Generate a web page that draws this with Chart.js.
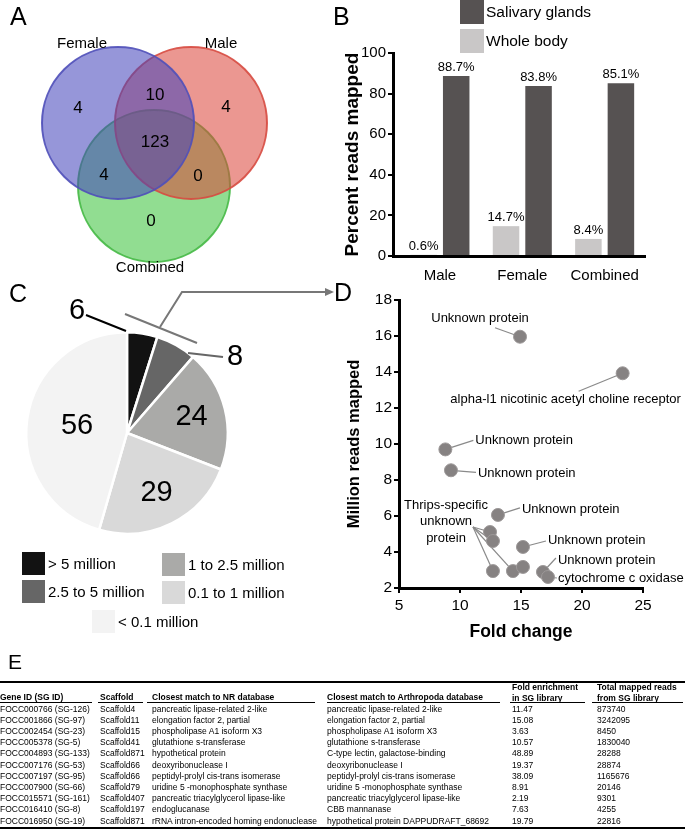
<!DOCTYPE html>
<html><head><meta charset="utf-8">
<script src="https://cdn.jsdelivr.net/npm/chart.js@4.4.0/dist/chart.umd.min.js"></script>
<style>
html,body{margin:0;padding:0;background:#fff;}
body{width:685px;height:829px;position:relative;overflow:hidden;font-family:"Liberation Sans",Arial,sans-serif;color:#000;}
canvas{position:absolute;}
.letter{position:absolute;font-size:25px;line-height:25px;}
.sq{position:absolute;}
.lt{position:absolute;white-space:nowrap;line-height:16px;}
.cell{position:absolute;white-space:nowrap;font-size:8.5px;line-height:11px;}
.hcell{position:absolute;white-space:nowrap;font-size:8.5px;line-height:11px;font-weight:bold;}
.rule{position:absolute;background:#000;}
</style></head><body>

<canvas id="venn" width="300" height="290" style="left:0;top:0;width:300px;height:290px"></canvas>
<canvas id="bars" width="355" height="290" style="left:330px;top:0;width:355px;height:290px"></canvas>
<canvas id="pie" width="330" height="265" style="left:0;top:290px;width:330px;height:265px"></canvas>
<canvas id="scatter" width="355" height="363" style="left:330px;top:285px;width:355px;height:363px"></canvas>
<div id="overlay"></div>

<script>
// ---------------- DATA ----------------
// Panel A (Venn)
const vennSets = ['Female', 'Male', 'Combined'];
// regions: Female only, Female∩Male, Male only, all three, Female∩Combined, Male∩Combined, Combined only
const vennCounts = [4, 10, 4, 123, 4, 0, 0];

// Panel B (bars)
const barCategories = ['Male', 'Female', 'Combined'];
const wholeBody = [0.6, 14.7, 8.4];
const salivaryGlands = [88.7, 83.8, 85.1];
const barTicks = [0, 20, 40, 60, 80, 100];

// Panel C (pie)
const pieCategories = ['> 5 million', '2.5 to 5 million', '1 to 2.5 million', '0.1 to 1 million', '< 0.1 million'];
const pieCounts = [6, 8, 24, 29, 56];

// Panel D (scatter)
const foldChange   = [14.92, 23.33, 8.80, 9.26, 13.11, 12.46, 12.70, 15.16, 12.70, 14.34, 15.16, 16.80, 17.21];
const millionReads = [15.96, 13.93, 9.70, 8.54, 6.06, 5.11, 4.61, 4.28, 2.94, 2.94, 3.17, 2.89, 2.61];
const xTicksD = [5, 10, 15, 20, 25];
const yTicksD = [2, 4, 6, 8, 10, 12, 14, 16, 18];

// Panel E (table)
const tableHeaders = [['Gene ID (SG ID)'], ['Scaffold'], ['Closest match to NR database'], ['Closest match to Arthropoda database'], ['Fold enrichment', 'in SG library'], ['Total mapped reads', 'from SG library']];
const geneIds = ['FOCC000766 (SG-126)', 'FOCC001866 (SG-97)', 'FOCC002454 (SG-23)', 'FOCC005378 (SG-5)', 'FOCC004893 (SG-133)', 'FOCC007176 (SG-53)', 'FOCC007197 (SG-95)', 'FOCC007900 (SG-66)', 'FOCC015571 (SG-161)', 'FOCC016410 (SG-8)', 'FOCC016950 (SG-19)'];
const scaffolds = ['Scaffold4', 'Scaffold11', 'Scaffold15', 'Scaffold41', 'Scaffold871', 'Scaffold66', 'Scaffold66', 'Scaffold79', 'Scaffold407', 'Scaffold197', 'Scaffold871'];
const nrMatch = ['pancreatic lipase-related 2-like', 'elongation factor 2, partial', 'phospholipase A1 isoform X3', 'glutathione s-transferase', 'hypothetical protein', 'deoxyribonuclease I', 'peptidyl-prolyl cis-trans isomerase', 'uridine 5 -monophosphate synthase', 'pancreatic triacylglycerol lipase-like', 'endoglucanase', 'rRNA intron-encoded homing endonuclease'];
const arthMatch = ['pancreatic lipase-related 2-like', 'elongation factor 2, partial', 'phospholipase A1 isoform X3', 'glutathione s-transferase', 'C-type lectin, galactose-binding', 'deoxyribonuclease I', 'peptidyl-prolyl cis-trans isomerase', 'uridine 5 -monophosphate synthase', 'pancreatic triacylglycerol lipase-like', 'CBB mannanase', 'hypothetical protein DAPPUDRAFT_68692'];
const foldEnrich = ['11.47', '15.08', '3.63', '10.57', '48.89', '19.37', '38.09', '8.91', '2.19', '7.63', '19.79'];
const totalReads = ['873740', '3242095', '8450', '1830040', '28288', '28874', '1165676', '20146', '9301', '4255', '22816'];

// ---------------- STYLE / LAYOUT ----------------
const FONT = '"Liberation Sans", Arial, sans-serif';
Chart.defaults.font.family = FONT;
Chart.defaults.color = '#000';
Chart.defaults.animation = false;

const vennCenters = [{x: 118, y: 123}, {x: 191, y: 123}, {x: 154, y: 186}];
const vennFill = ['rgba(68,68,188,0.56)', 'rgba(220,70,58,0.56)', 'rgba(66,196,66,0.58)'];
const vennStroke = ['rgba(80,80,185,0.9)', 'rgba(215,75,65,0.9)', 'rgba(70,185,70,0.9)'];
const vennCountPos = [[78, 108], [155, 95], [226, 107], [155, 142], [104, 175], [198, 176], [151, 221]];
const vennNamePos = [[82, 44], [221, 44], [150, 268]];

const pieColors = ['#121212', '#666666', '#aaaaa8', '#d9d9d9', '#f3f3f3'];
const darkBar = '#565252', lightBar = '#c9c7c7';

// Panel letters
[['A', 10, 4], ['B', 333, 4], ['C', 9, 281], ['D', 334, 280]].forEach(([t, l, tp]) => {
  const d = document.createElement('div'); d.className = 'letter'; d.textContent = t;
  d.style.left = l + 'px'; d.style.top = tp + 'px'; document.body.appendChild(d);
});
(() => { const d = document.createElement('div'); d.className = 'letter'; d.textContent = 'E';
  d.style.left = '8px'; d.style.top = '651px'; d.style.fontSize = '21px'; d.style.lineHeight = '21px'; document.body.appendChild(d); })();

function addBox(cls, l, t, w, h, bg) {
  const d = document.createElement('div'); d.className = cls;
  d.style.left = l + 'px'; d.style.top = t + 'px'; d.style.width = w + 'px'; d.style.height = h + 'px';
  if (bg) d.style.background = bg; document.body.appendChild(d); return d;
}
function addText(cls, txt, l, cy, size, extra) {
  const d = document.createElement('div'); d.className = cls; d.textContent = txt;
  d.style.left = l + 'px'; d.style.top = (cy - 8) + 'px'; d.style.fontSize = size + 'px';
  if (extra) Object.assign(d.style, extra); document.body.appendChild(d); return d;
}

// ---------- Panel A: Venn ----------
const vennText = {
  id: 'vennText',
  afterDatasetsDraw(chart) {
    const {ctx, scales: {x, y}} = chart;
    ctx.save(); ctx.fillStyle = '#000'; ctx.textAlign = 'center'; ctx.textBaseline = 'middle';
    ctx.font = '17px ' + FONT;
    vennCounts.forEach((c, i) => ctx.fillText(String(c), x.getPixelForValue(vennCountPos[i][0]), y.getPixelForValue(vennCountPos[i][1])));
    ctx.font = '15px ' + FONT;
    vennSets.forEach((s, i) => ctx.fillText(s, x.getPixelForValue(vennNamePos[i][0]), y.getPixelForValue(vennNamePos[i][1])));
    ctx.restore();
  }
};
new Chart(document.getElementById('venn'), {
  type: 'scatter',
  data: {datasets: vennSets.map((s, i) => ({label: s, data: [vennCenters[i]], pointRadius: 76, pointHoverRadius: 76,
    backgroundColor: vennFill[i], borderColor: vennStroke[i], borderWidth: 2, clip: false}))},
  options: {responsive: false, events: [], layout: {padding: 0, autoPadding: false},
    scales: {x: {display: false, min: 0, max: 300}, y: {display: false, min: 0, max: 290, reverse: true}},
    plugins: {legend: {display: false}, tooltip: {enabled: false}}},
  plugins: [vennText]
});

// ---------- Panel B: bars ----------
const barLabels = {
  id: 'barLabels',
  afterDatasetsDraw(chart) {
    const ctx = chart.ctx; ctx.save(); ctx.fillStyle = '#000'; ctx.font = '13px ' + FONT;
    ctx.textAlign = 'center'; ctx.textBaseline = 'bottom';
    chart.data.datasets.forEach((ds, di) => {
      chart.getDatasetMeta(di).data.forEach((el, i) => {
        ctx.fillText(ds.data[i].y.toFixed(1) + '%', el.x, el.y - 2);
      });
    });
    ctx.restore();
  }
};
new Chart(document.getElementById('bars'), {
  type: 'bar',
  data: {datasets: [
    {label: 'Whole body', data: wholeBody.map((v, i) => ({x: i, y: v})), backgroundColor: lightBar},
    {label: 'Salivary glands', data: salivaryGlands.map((v, i) => ({x: i, y: v})), backgroundColor: darkBar}
  ]},
  options: {responsive: false, events: [],
    categoryPercentage: 0.79, barPercentage: 0.815,
    layout: {padding: {top: 53, right: 40, left: 0, bottom: 0}, autoPadding: false},
    plugins: {legend: {display: false}, tooltip: {enabled: false}},
    scales: {
      x: {type: 'linear', min: -0.57, max: 2.49, offset: false,
        grid: {display: false, drawTicks: false}, border: {display: true, color: '#000', width: 3},
        afterBuildTicks: s => { s.ticks = barCategories.map((c, i) => ({value: i})); },
        ticks: {callback: v => barCategories[v] ?? '', color: '#000', font: {size: 15}, padding: 11, autoSkip: false, maxRotation: 0},
        afterFit: s => { s.height = 34; }},
      y: {min: 0, max: 100,
        afterBuildTicks: s => { s.ticks = barTicks.map(v => ({value: v})); },
        ticks: {color: '#000', font: {size: 15}, padding: 2},
        grid: {drawOnChartArea: false, color: '#000', lineWidth: 2, tickLength: 5},
        border: {color: '#000', width: 3},
        title: {display: true, text: 'Percent reads mapped', color: '#000', font: {size: 19, weight: 'bold'}, padding: {top: 11, bottom: 0}},
        afterFit: s => { s.width = 63; }}
    }},
  plugins: [barLabels]
});
// bar legend
[['Salivary glands', darkBar, 0], ['Whole body', lightBar, 29]].forEach(([name, col, t]) => {
  addBox('sq', 460, t, 24, 24, col);
  addText('lt', name, 486, t + 12, 15.5);
});

// ---------- Panel C: pie ----------
const pieLabelR = [null, null, 0.66, 0.66, 0.5];
const pieOutside = {0: {tx: -50, ty: -122, l: [-41, -118, -1, -102], c: '#000'}, 1: {tx: 108, ty: -76, l: [96, -76, 61, -80], c: '#666'}};
const pieText = {
  id: 'pieText',
  afterDatasetsDraw(chart) {
    const ctx = chart.ctx; ctx.save(); ctx.fillStyle = '#000'; ctx.font = '29px ' + FONT;
    ctx.textAlign = 'center'; ctx.textBaseline = 'middle';
    chart.getDatasetMeta(0).data.forEach((arc, i) => {
      const p = arc.getProps(['x', 'y', 'startAngle', 'endAngle', 'outerRadius']);
      if (pieOutside[i]) {
        const o = pieOutside[i];
        ctx.strokeStyle = o.c; ctx.lineWidth = 2; ctx.beginPath();
        ctx.moveTo(p.x + o.l[0], p.y + o.l[1]); ctx.lineTo(p.x + o.l[2], p.y + o.l[3]); ctx.stroke();
        ctx.fillText(String(pieCounts[i]), p.x + o.tx, p.y + o.ty);
      } else {
        const m = (p.startAngle + p.endAngle) / 2, r = p.outerRadius * pieLabelR[i];
        ctx.fillText(String(pieCounts[i]), p.x + Math.cos(m) * r, p.y + Math.sin(m) * r);
      }
    });
    ctx.restore();
  }
};
new Chart(document.getElementById('pie'), {
  type: 'pie',
  data: {labels: pieCategories, datasets: [{data: pieCounts, backgroundColor: pieColors, borderColor: '#fff', borderWidth: 2.5}]},
  options: {responsive: false, events: [], layout: {padding: {left: 25, top: 41, right: 101, bottom: 20}},
    plugins: {legend: {display: false}, tooltip: {enabled: false}}},
  plugins: [pieText]
});
// pie legend
const pieLegendPos = [[22, 552], [22, 580], [162, 553], [162, 581], [92, 610]];
pieCategories.forEach((c, i) => {
  const [l, t] = pieLegendPos[i];
  addBox('sq', l, t, 23, 23, pieColors[i]);
  addText('lt', c, l + 26, t + 12, 15);
});

// ---------- Panel D: scatter ----------
const notes = [
  {i: 0, text: ['Unknown protein'], dx: -40, dy: -18, align: 'center', lx: -25, ly: -9},
  {i: 1, text: ['alpha-l1 nicotinic acetyl choline receptor'], dx: -57, dy: 26, align: 'center', lx: -44, ly: 18},
  {i: 2, text: ['Unknown protein'], dx: 30, dy: -9, align: 'left', lx: 28, ly: -9},
  {i: 3, text: ['Unknown protein'], dx: 27, dy: 3, align: 'left', lx: 25, ly: 2},
  {i: 4, text: ['Unknown protein'], dx: 24, dy: -5, align: 'left', lx: 22, ly: -7},
  {i: 7, text: ['Unknown protein'], dx: 25, dy: -7, align: 'left', lx: 23, ly: -6},
  {i: 11, text: ['Unknown protein'], dx: 15, dy: -12, align: 'left', lx: 13, ly: -14},
  {i: 12, text: ['cytochrome c oxidase'], dx: 10, dy: 1, align: 'left', lx: 9, ly: 1},
  {i: 5, text: ['Thrips-specific', 'unknown', 'protein'], dx: -44, dy: -27, align: 'center', lineH: 16.5, hub: [-17, -5], targets: [5, 6, 8, 9]}
];
const scatterNotes = {
  id: 'scatterNotes',
  beforeDatasetsDraw(chart) {
    const ctx = chart.ctx, pts = chart.getDatasetMeta(0).data;
    ctx.save(); ctx.strokeStyle = '#8a8a8a'; ctx.lineWidth = 1.2;
    notes.forEach(n => {
      const p = pts[n.i];
      if (n.targets) {
        n.targets.forEach(t => { ctx.beginPath(); ctx.moveTo(p.x + n.hub[0], p.y + n.hub[1]); ctx.lineTo(pts[t].x, pts[t].y); ctx.stroke(); });
      } else {
        ctx.beginPath(); ctx.moveTo(p.x, p.y); ctx.lineTo(p.x + n.lx, p.y + n.ly); ctx.stroke();
      }
    });
    ctx.restore();
  },
  afterDatasetsDraw(chart) {
    const ctx = chart.ctx, pts = chart.getDatasetMeta(0).data;
    ctx.save(); ctx.fillStyle = '#000'; ctx.font = '13px ' + FONT; ctx.textBaseline = 'middle';
    notes.forEach(n => {
      const p = pts[n.i]; ctx.textAlign = n.align;
      n.text.forEach((t, k) => ctx.fillText(t, p.x + n.dx, p.y + n.dy + k * (n.lineH || 0)));
    });
    ctx.restore();
  }
};
new Chart(document.getElementById('scatter'), {
  type: 'scatter',
  data: {datasets: [{data: foldChange.map((x, i) => ({x, y: millionReads[i]})), pointRadius: 6.5, pointHoverRadius: 6.5,
    backgroundColor: '#868282', borderColor: '#9d9999', borderWidth: 1, clip: false}]},
  options: {responsive: false, events: [],
    layout: {padding: {top: 15, right: 42, left: 0, bottom: 0}, autoPadding: false},
    plugins: {legend: {display: false}, tooltip: {enabled: false}},
    scales: {
      x: {min: 5, max: 25,
        afterBuildTicks: s => { s.ticks = xTicksD.map(v => ({value: v})); },
        ticks: {color: '#000', font: {size: 15.5}, padding: 3, maxRotation: 0},
        grid: {drawOnChartArea: false, color: '#000', lineWidth: 2, tickLength: 5},
        border: {color: '#000', width: 3},
        title: {display: true, text: 'Fold change', color: '#000', font: {size: 17.5, weight: 'bold'}, padding: {top: 0, bottom: 5}},
        afterFit: s => { s.height = 60; }},
      y: {min: 2, max: 18,
        afterBuildTicks: s => { s.ticks = yTicksD.map(v => ({value: v})); },
        ticks: {color: '#000', font: {size: 15.5}, padding: 2},
        grid: {drawOnChartArea: false, color: '#000', lineWidth: 2, tickLength: 5},
        border: {color: '#000', width: 3},
        title: {display: true, text: 'Million reads mapped', color: '#000', font: {size: 16.5, weight: 'bold'}, padding: {top: 15, bottom: 0}},
        afterFit: s => { s.width = 69; }}
    }},
  plugins: [scatterNotes]
});

// ---------- Panel E: table ----------
const colX = [0, 100, 152, 327, 512, 597];
const colUnderline = [[0, 92], [98, 143], [147, 315], [327, 500], [510, 585], [592, 683]];
const columns = [geneIds, scaffolds, nrMatch, arthMatch, foldEnrich, totalReads];
addBox('rule', 0, 681, 685, 1.5);
tableHeaders.forEach((h, c) => {
  const top = h.length === 2 ? 681.5 : 691.5;
  h.forEach((t, k) => {
    const d = document.createElement('div'); d.className = 'hcell'; d.textContent = t;
    d.style.left = colX[c] + 'px'; d.style.top = (top + k * 11) + 'px'; document.body.appendChild(d);
  });
  addBox('rule', colUnderline[c][0], 701.5, colUnderline[c][1] - colUnderline[c][0], 1);
});
columns.forEach((col, c) => {
  col.forEach((t, r) => {
    const d = document.createElement('div'); d.className = 'cell'; d.textContent = t;
    d.style.left = colX[c] + 'px'; d.style.top = (703.5 + r * 11.2) + 'px'; document.body.appendChild(d);
  });
});
addBox('rule', 0, 827, 685, 1.5);

// ---------- connector C -> D ----------
document.getElementById('overlay').outerHTML =
  '<svg style="position:absolute;left:0;top:0" width="685" height="829" xmlns="http://www.w3.org/2000/svg">' +
  '<line x1="125" y1="314" x2="197" y2="343" stroke="#777" stroke-width="2"/>' +
  '<polyline points="160,327 182,292 326,292" fill="none" stroke="#777" stroke-width="2"/>' +
  '<polygon points="334,292 325,288 325,296" fill="#777"/></svg>';
</script>
</body></html>
